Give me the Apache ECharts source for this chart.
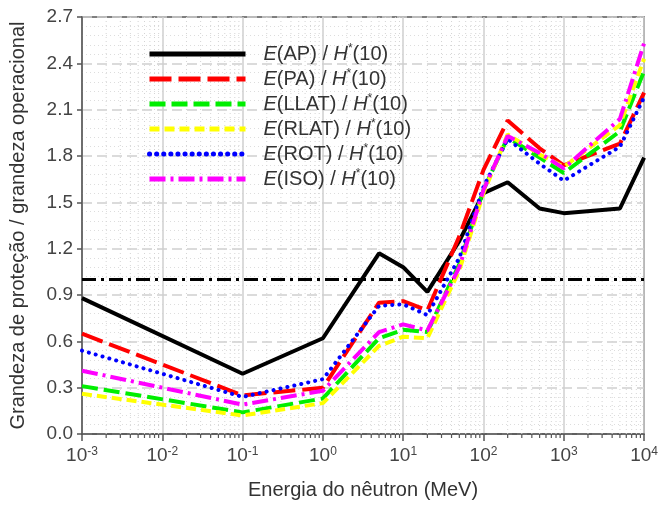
<!DOCTYPE html>
<html>
<head>
<meta charset="utf-8">
<script src="https://cdn.jsdelivr.net/npm/echarts@6/dist/echarts.min.js"></script>
<style>
  html, body { margin: 0; padding: 0; background: #fff; }
  #chart { width: 661px; height: 505px; }
</style>
</head>
<body>
<div id="chart"></div>
<script>
// energias (MeV) e razões
const energies = [0.001, 0.1, 1, 5, 10, 20, 50, 100, 200, 500, 1000, 5000, 10000]
const ratioAP   = [0.88, 0.39, 0.62, 1.17, 1.08, 0.92, 1.25, 1.56, 1.63, 1.46, 1.43, 1.46, 1.79]
const ratioPA   = [0.65, 0.25, 0.30, 0.85, 0.86, 0.80, 1.28, 1.71, 2.03, 1.85, 1.74, 1.88, 2.21]
const ratioLLAT = [0.31, 0.14, 0.23, 0.62, 0.675, 0.66, 1.10, 1.58, 1.92, 1.79, 1.69, 1.96, 2.35]
const ratioRLAT = [0.26, 0.12, 0.20, 0.57, 0.63, 0.62, 1.06, 1.56, 1.94, 1.81, 1.73, 2.00, 2.43]
const ratioROT  = [0.54, 0.24, 0.355, 0.83, 0.84, 0.77, 1.14, 1.60, 1.91, 1.75, 1.64, 1.86, 2.18]
const ratioISO  = [0.41, 0.19, 0.28, 0.66, 0.71, 0.67, 1.08, 1.58, 1.93, 1.82, 1.72, 2.04, 2.53]

const seriesNames = ['AP', 'PA', 'LLAT', 'RLAT', 'ROT', 'ISO']
const xExtent = [0.001, 10000]
const yTicks = ['0.0', '0.3', '0.6', '0.9', '1.2', '1.5', '1.8', '2.1', '2.4', '2.7']
const refLevel = 1.0

// subdivisões 2..9 de cada década (grade menor do eixo log)
const minorTicks = []
for (let e = -3; e < 4; e++) {
  for (let m = 2; m <= 9; m++) minorTicks.push([m * Math.pow(10, e), 0])
}

const font = "'Liberation Sans', Arial, sans-serif"
const zip = (ys) => energies.map((x, i) => [x, ys[i]])

const chart = echarts.init(document.getElementById('chart'))

function lineSeries(name, ys, color, type, cap) {
  return {
    name: name,
    type: 'line',
    data: zip(ys),
    symbol: 'none',
    z: 5,
    itemStyle: { color: color },
    lineStyle: { color: color, width: 4, type: type, cap: cap || 'butt' },
    animation: false
  }
}

chart.setOption({
  textStyle: { fontFamily: font },
  grid: {
    left: 81, right: 15, top: 17, bottom: 68,
    show: true, borderColor: '#555', borderWidth: 1.5
  },
  legend: {
    data: seriesNames,
    orient: 'vertical',
    left: 142,
    top: 38,
    icon: 'inherit',
    itemWidth: 96,
    itemHeight: 8,
    itemGap: 3,
    selectedMode: false,
    itemStyle: { opacity: 0 },
    lineStyle: { width: 5 },
    formatter: (name) => '{it|E}(' + name + ') / {it|H}{sup|*}(10)',
    textStyle: {
      fontFamily: font,
      fontSize: 20,
      color: '#333',
      lineHeight: 22,
      padding: [0, 0, 0, 13],
      rich: {
        it: { fontStyle: 'italic', fontSize: 20, color: '#333', fontFamily: font },
        sup: { fontSize: 12, verticalAlign: 'top', lineHeight: 14, color: '#333', fontFamily: font }
      }
    }
  },
  xAxis: {
    type: 'log',
    logBase: 10,
    min: xExtent[0],
    max: xExtent[1],
    splitNumber: 7,
    name: 'Energia do nêutron (MeV)',
    nameLocation: 'middle',
    nameGap: 46,
    nameTextStyle: { fontSize: 20, color: '#333', fontFamily: font },
    axisLine: { lineStyle: { color: '#555', width: 1.5 } },
    axisTick: { length: 7, lineStyle: { color: '#555', width: 1.5 } },
    axisLabel: {
      margin: 12,
      color: '#444',
      fontSize: 19,
      formatter: (v) => '10{sup|' + Math.round(Math.log10(v)) + '}',
      rich: {
        sup: { fontSize: 12, verticalAlign: 'top', lineHeight: 12, color: '#444' }
      }
    },
    splitLine: { show: true, lineStyle: { color: '#cfcfcf', width: 1.5 } }
  },
  yAxis: {
    type: 'value',
    min: 0,
    max: 2.7,
    interval: 0.3,
    name: 'Grandeza de proteção / grandeza operacional',
    nameLocation: 'middle',
    nameGap: 54,
    nameTextStyle: { fontSize: 20, color: '#333', fontFamily: font },
    axisLine: { show: true, lineStyle: { color: '#555', width: 1.5 } },
    axisTick: { show: true, length: 5, lineStyle: { color: '#555', width: 1.5 } },
    axisLabel: {
      margin: 9,
      color: '#444',
      fontSize: 19,
      formatter: (v) => yTicks[Math.round(v / 0.3)]
    },
    splitLine: { lineStyle: { color: '#cfcfcf', width: 1.5, type: [10, 5] } },
    minorTick: { show: false, splitNumber: 5 },
    minorSplitLine: { show: true, lineStyle: { color: '#dddddd', width: 1, type: [1, 3] } }
  },
  series: [
    {
      name: 'grade',
      type: 'custom',
      silent: true,
      z: 1,
      clip: false,
      data: minorTicks,
      renderItem: function (params, api) {
        const bot = api.coord([api.value(0), 0])
        const top = api.coord([api.value(0), 2.7])
        return {
          type: 'group',
          children: [
            {
              type: 'line',
              shape: { x1: bot[0], y1: top[1], x2: bot[0], y2: bot[1] },
              style: { stroke: '#d4d4d4', lineWidth: 1, lineDash: [1, 3] }
            },
            {
              type: 'line',
              shape: { x1: bot[0], y1: bot[1], x2: bot[0], y2: bot[1] + 4 },
              style: { stroke: '#555', lineWidth: 1.2 }
            }
          ]
        }
      },
      animation: false
    },
    {
      name: 'ref',
      type: 'line',
      data: xExtent.map((x) => [x, refLevel]),
      symbol: 'none',
      z: 4,
      lineStyle: { color: '#000', width: 3, type: [14, 5, 3, 5] },
      animation: false
    },
    lineSeries('AP', ratioAP, '#000000', 'solid'),
    lineSeries('PA', ratioPA, '#ff0000', [22, 7]),
    lineSeries('LLAT', ratioLLAT, '#00ee00', [16, 6]),
    lineSeries('RLAT', ratioRLAT, '#ffff00', [10, 5]),
    lineSeries('ROT', ratioROT, '#0000ff', [0.1, 7], 'round'),
    lineSeries('ISO', ratioISO, '#ff00ff', [16, 5, 3, 5])
  ]
})
</script>
</body>
</html>
